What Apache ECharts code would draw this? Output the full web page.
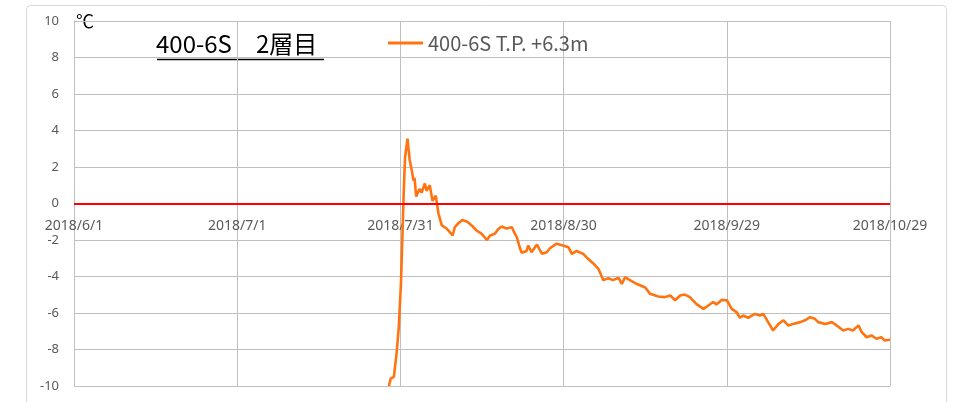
<!DOCTYPE html>
<html>
<head>
<meta charset="utf-8">
<script src="https://cdn.jsdelivr.net/npm/echarts@6/dist/echarts.min.js"></script>
<style>
  html, body { margin: 0; padding: 0; background: #fff; }
  #chart { width: 954px; height: 402px; }
</style>
</head>
<body>
<div id="chart"></div>
<script>
// days counted from 2018/6/1
const days = [
    57.9, 58.2, 58.8, 59.3, 59.7, 60.1, 60.35, 60.6, 60.85, 61.3,
    61.7, 62.1, 62.4, 62.6, 62.9, 63.5, 63.9, 64.5, 64.8, 65.4,
    65.9, 66.5, 67.0, 67.6, 68.5, 69.6, 70.0, 70.6, 71.4, 72.3,
    73.1, 74.0, 74.9, 75.9, 76.5, 77.4, 78.0, 78.6, 79.5, 80.5,
    80.9, 81.4, 82.0, 82.3, 83.2, 83.5, 84.1, 85.1, 86.0, 86.9,
    87.5, 88.7, 89.9, 90.9, 91.5, 92.4, 93.6, 94.5, 95.5, 96.4,
    97.3, 98.2, 99.1, 100.1, 100.7, 101.3, 102.2, 103.4, 105.0, 105.9,
    107.4, 108.6, 109.6, 110.5, 111.4, 112.3, 113.2, 114.5, 115.7, 116.6,
    117.5, 118.1, 119.1, 120.0, 120.9, 121.8, 122.4, 123.0, 123.9, 125.2,
    126.1, 126.7, 127.6, 128.5, 129.5, 130.4, 131.3, 132.2, 133.5, 134.4,
    135.3, 136.2, 136.8, 138.1, 139.3, 140.2, 141.4, 142.3, 143.2, 144.2,
    144.8, 145.7, 146.6, 147.5, 148.4, 149.0, 150.0
];
const temps = [
    -10.0, -9.6, -9.5, -8.2, -6.8, -4.4, -2.0, 0.5, 2.5, 3.55,
    2.4, 1.8, 1.26, 1.4, 0.38, 0.8, 0.6, 1.1, 0.7, 1.0,
    0.15, 0.43, -0.55, -1.2, -1.37, -1.75, -1.3, -1.1, -0.9, -1.0,
    -1.2, -1.48, -1.65, -2.0, -1.75, -1.65, -1.4, -1.26, -1.37, -1.3,
    -1.57, -1.85, -2.47, -2.7, -2.6, -2.3, -2.67, -2.25, -2.75, -2.67,
    -2.45, -2.2, -2.3, -2.4, -2.76, -2.6, -2.76, -3.03, -3.3, -3.58,
    -4.2, -4.1, -4.2, -4.07, -4.4, -4.04, -4.2, -4.4, -4.6, -4.95,
    -5.1, -5.13, -5.04, -5.3, -5.04, -4.99, -5.13, -5.53, -5.77, -5.59,
    -5.4, -5.53, -5.28, -5.3, -5.77, -5.95, -6.26, -6.14, -6.26, -6.05,
    -6.14, -6.05, -6.5, -6.96, -6.6, -6.4, -6.68, -6.6, -6.5, -6.4,
    -6.23, -6.32, -6.5, -6.6, -6.5, -6.68, -6.96, -6.87, -6.96, -6.68,
    -7.05, -7.33, -7.23, -7.41, -7.33, -7.5, -7.47
];
const seriesName = '400-6S T.P. +6.3m';
const startDate = new Date(2018, 5, 1);

function dayLabel(v) {
    const d = new Date(startDate.getTime() + v * 86400000);
    return d.getFullYear() + '/' + (d.getMonth() + 1) + '/' + d.getDate();
}

const chart = echarts.init(document.getElementById('chart'));
const option = {
    animation: false,
    backgroundColor: '#fff',
    grid: { left: 74, right: 64, top: 21, bottom: 16, outerBoundsMode: 'none' },
    legend: {
        left: 388, top: 33, padding: 0,
        icon: 'rect', itemWidth: 35, itemHeight: 3, itemGap: 3,
        textStyle: { color: '#595959', fontSize: 20, fontFamily: 'Noto Sans CJK JP' },
        data: [seriesName]
    },
    xAxis: {
        type: 'value', min: 0, max: 150, interval: 30,
        axisLine: { show: false },
        axisTick: { show: false },
        axisLabel: {
            color: '#595959', fontSize: 14, margin: -167,
            fontFamily: 'Noto Sans',
            formatter: dayLabel
        },
        splitLine: { show: true, lineStyle: { color: '#bfbfbf', width: 1 } }
    },
    yAxis: {
        type: 'value', min: -10, max: 10, interval: 2,
        axisLine: { show: true, lineStyle: { color: '#bfbfbf' } },
        axisTick: { show: false },
        axisLabel: { color: '#595959', fontSize: 13, margin: 15, fontFamily: 'Noto Sans' },
        splitLine: { lineStyle: { color: '#bfbfbf', width: 1 } }
    },
    series: [{
        name: seriesName,
        type: 'line',
        data: days.map((d, i) => [d, temps[i]]),
        symbol: 'none',
        lineStyle: { color: '#ff7310', width: 2.6 },
        itemStyle: { color: '#ff7310' },
        markLine: {
            silent: true,
            symbol: 'none',
            label: { show: false },
            lineStyle: { color: '#ff0000', width: 2, type: 'solid' },
            data: [{ yAxis: 0 }]
        },
        z: 3
    }],
    graphic: [
        {
            type: 'rect', silent: true, z: -1,
            shape: { x: 26.5, y: 5.5, width: 920, height: 420, r: 4 },
            style: { fill: 'none', stroke: '#d9d9d9', lineWidth: 1 }
        },
        {
            type: 'text', left: 76, top: 12,
            style: { text: '℃', fill: '#000', fontSize: 18, fontFamily: 'Noto Sans CJK JP' }
        },
        {
            type: 'text', left: 156, top: 32,
            style: { text: '400-6S　2層目', fill: '#000', fontSize: 24, fontFamily: 'Noto Sans CJK JP' }
        },
        {
            type: 'line',
            shape: { x1: 157, y1: 59.5, x2: 324, y2: 59.5 },
            style: { stroke: '#000', lineWidth: 1.3 }
        }
    ]
};
chart.setOption(option);
</script>
</body>
</html>
